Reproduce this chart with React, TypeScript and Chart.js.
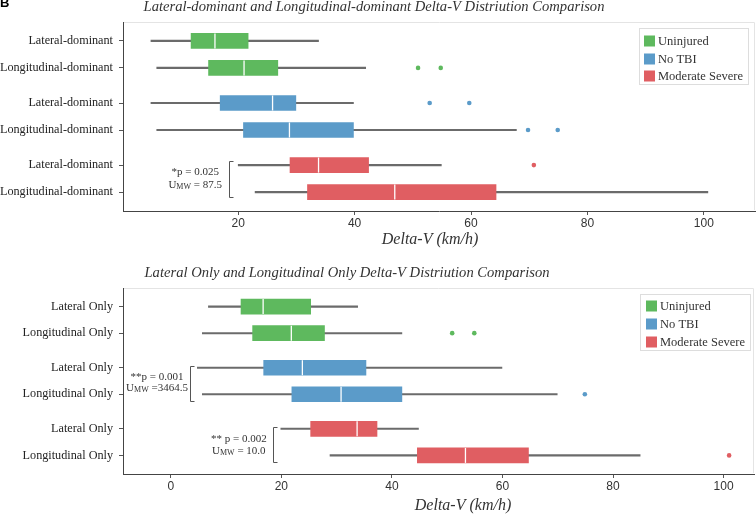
import React, { useEffect, useRef } from 'react';
import { Chart, registerables } from 'chart.js';

Chart.register(...registerables);

// ---------- shared data ----------
const ROW_POS = [0, 1, 2.3, 3.3, 4.6, 5.6];
const GROUP_OF_ROW = [0, 0, 1, 1, 2, 2];
const GROUP_NAMES = ['Uninjured', 'No TBI', 'Moderate Severe'];
const GROUP_COLORS = ['#5eb95e', '#5b9bc9', '#e05e62'];

// ---------- top chart data ----------
const TOP_TITLE = 'Lateral-dominant and Longitudinal-dominant Delta-V Distriution Comparison';
const TOP_LABELS = [
  'Lateral-dominant', 'Longitudinal-dominant',
  'Lateral-dominant', 'Longitudinal-dominant',
  'Lateral-dominant', 'Longitudinal-dominant',
];
const TOP_MIN = [5.0, 6.0, 5.0, 6.0, 20.0, 22.9];
const TOP_Q1 = [11.9, 14.9, 16.9, 20.9, 28.9, 31.9];
const TOP_MEDIAN = [16.0, 21.0, 25.9, 28.8, 33.8, 46.9];
const TOP_Q3 = [21.7, 26.8, 29.9, 39.8, 42.4, 64.3];
const TOP_MAX = [33.8, 41.9, 39.8, 67.8, 54.9, 100.7];
const TOP_OUTLIERS: number[][] = [[], [50.9, 54.8], [52.9, 59.7], [69.8, 74.9], [70.8], []];
const TOP_X_TICKS = [20, 40, 60, 80, 100];

// ---------- bottom chart data ----------
const BOT_TITLE = 'Lateral Only and Longitudinal Only Delta-V Distriution Comparison';
const BOT_LABELS = [
  'Lateral Only', 'Longitudinal Only',
  'Lateral Only', 'Longitudinal Only',
  'Lateral Only', 'Longitudinal Only',
];
const BOT_MIN = [6.8, 5.7, 4.8, 5.7, 19.9, 28.8];
const BOT_Q1 = [12.7, 14.8, 16.8, 21.9, 25.3, 44.6];
const BOT_MEDIAN = [16.7, 21.8, 23.8, 30.8, 33.7, 53.3];
const BOT_Q3 = [25.3, 27.8, 35.3, 41.8, 37.3, 64.7];
const BOT_MAX = [33.8, 41.8, 59.9, 69.9, 44.8, 84.9];
const BOT_OUTLIERS: number[][] = [[], [50.9, 54.9], [], [74.9], [], [101.0]];
const BOT_X_TICKS = [0, 20, 40, 60, 80, 100];

// ---------- annotations (text in data coordinates) ----------
type Seg = { t: string; sub?: boolean };
type Annotation = { lines: Seg[][]; textX: number; textY: number[]; bracketX: number; bracketY: [number, number] };

const TOP_ANNOTATIONS: Annotation[] = [
  {
    lines: [[{ t: '*p = 0.025' }], [{ t: 'U' }, { t: 'MW', sub: true }, { t: ' = 87.5' }]],
    textX: 12.6, textY: [4.85, 5.33], bracketX: 18.45, bracketY: [4.43, 5.77],
  },
];
const BOT_ANNOTATIONS: Annotation[] = [
  {
    lines: [[{ t: '**p = 0.001' }], [{ t: 'U' }, { t: 'MW', sub: true }, { t: ' =3464.5' }]],
    textX: -2.5, textY: [2.67, 3.06], bracketX: 3.44, bracketY: [2.22, 3.54],
  },
  {
    lines: [[{ t: '** p = 0.002' }], [{ t: 'U' }, { t: 'MW', sub: true }, { t: ' = 10.0' }]],
    textX: 12.3, textY: [5.0, 5.44], bracketX: 18.41, bracketY: [4.54, 5.86],
  },
];

const SERIF = '"Liberation Serif", "Times New Roman", serif';
const SANS = '"Liberation Sans", Arial, sans-serif';

function buildDatasets(mins: number[], q1: number[], med: number[], q3: number[], maxs: number[], outliers: number[][]) {
  const ds: any[] = [];
  ds.push({
    type: 'bar', label: 'whiskers', indexAxis: 'y', grouped: false, order: 3,
    data: ROW_POS.map((p, i) => ({ y: p, x: [mins[i], maxs[i]] })),
    backgroundColor: '#6b6b6b', borderWidth: 0, barThickness: 1.4,
  });
  GROUP_NAMES.forEach((g, gi) => {
    const rows = ROW_POS.map((_, i) => i).filter((i) => GROUP_OF_ROW[i] === gi);
    ds.push({
      type: 'bar', label: g, indexAxis: 'y', grouped: false, order: 2,
      data: rows.map((i) => ({ y: ROW_POS[i], x: [q1[i], q3[i]] })),
      backgroundColor: GROUP_COLORS[gi], borderWidth: 0, barThickness: 15,
    });
  });
  ds.push({
    type: 'scatter', label: 'medians', order: 1,
    data: ROW_POS.map((p, i) => ({ x: med[i], y: p })),
    pointStyle: 'line', pointRotation: 90, pointRadius: 7.5, pointHoverRadius: 7.5,
    pointBorderColor: '#ffffff', pointBackgroundColor: '#ffffff', pointBorderWidth: 1.3,
  });
  GROUP_NAMES.forEach((g, gi) => {
    const pts: { x: number; y: number }[] = [];
    ROW_POS.forEach((p, i) => {
      if (GROUP_OF_ROW[i] === gi) outliers[i].forEach((v) => pts.push({ x: v, y: p }));
    });
    ds.push({
      type: 'scatter', label: g + ' outliers', order: 0, data: pts,
      pointRadius: 2.3, pointHoverRadius: 2.3, pointBackgroundColor: GROUP_COLORS[gi],
      pointBorderWidth: 0, pointBorderColor: GROUP_COLORS[gi],
    });
  });
  return ds;
}

type Layout = {
  height: number;
  padTop: number;
  padRight: number;
  xAxisHeight: number;
  xMin: number;
  xMax: number;
  title: string;
  titleX: number;
  titleY: number;
  xTitleX: number;
  xTitleY: number;
  legend: { x: number; y: number; w: number; h: number; sqX: number; textX: number; rowY: number[] };
  panelLabel?: string;
};

function overlayPlugin(layout: Layout, annotations: Annotation[]) {
  return {
    id: 'overlay',
    beforeDatasetsDraw(chart: any) {
      const { ctx, chartArea } = chart;
      const { left, top, right, bottom } = chartArea;
      ctx.save();
      ctx.strokeStyle = '#e4e4e4';
      ctx.lineWidth = 1;
      ctx.beginPath();
      ctx.moveTo(left + 1, Math.round(top) + 0.5);
      ctx.lineTo(Math.round(right) - 0.5, Math.round(top) + 0.5);
      ctx.lineTo(Math.round(right) - 0.5, bottom - 1);
      ctx.stroke();
      ctx.restore();
    },
    afterDraw(chart: any) {
      const ctx = chart.ctx as CanvasRenderingContext2D;
      const xs = chart.scales.x;
      const ys = chart.scales.y;
      ctx.save();
      // titles
      ctx.fillStyle = '#333';
      ctx.textAlign = 'center';
      ctx.textBaseline = 'middle';
      ctx.font = `italic 14.6px ${SERIF}`;
      ctx.fillText(layout.title, layout.titleX, layout.titleY);
      ctx.font = `italic 16px ${SERIF}`;
      ctx.fillText('Delta-V (km/h)', layout.xTitleX, layout.xTitleY);
      if (layout.panelLabel) {
        ctx.fillStyle = '#000';
        ctx.textAlign = 'left';
        ctx.font = `bold 13px ${SANS}`;
        ctx.fillText(layout.panelLabel, 0, 3);
      }
      // legend
      const lg = layout.legend;
      ctx.fillStyle = '#fff';
      ctx.fillRect(lg.x, lg.y, lg.w, lg.h);
      ctx.strokeStyle = '#dddddd';
      ctx.lineWidth = 1;
      ctx.strokeRect(lg.x + 0.5, lg.y + 0.5, lg.w, lg.h);
      ctx.font = `12.5px ${SERIF}`;
      ctx.textAlign = 'left';
      ctx.textBaseline = 'middle';
      GROUP_NAMES.forEach((g, gi) => {
        const cy = lg.rowY[gi];
        ctx.fillStyle = GROUP_COLORS[gi];
        ctx.fillRect(lg.sqX, cy - 5.5, 11, 11);
        ctx.fillStyle = '#333';
        ctx.fillText(g, lg.textX, cy + 0.5);
      });
      // annotations
      annotations.forEach((a) => {
        const bx = Math.round(xs.getPixelForValue(a.bracketX)) + 0.5;
        const by1 = Math.round(ys.getPixelForValue(a.bracketY[0])) + 0.5;
        const by2 = Math.round(ys.getPixelForValue(a.bracketY[1])) + 0.5;
        ctx.strokeStyle = '#555';
        ctx.lineWidth = 1;
        ctx.beginPath();
        ctx.moveTo(bx + 4, by1);
        ctx.lineTo(bx, by1);
        ctx.lineTo(bx, by2);
        ctx.lineTo(bx + 4, by2);
        ctx.stroke();
        ctx.fillStyle = '#333';
        a.lines.forEach((line, li) => {
          const cx = xs.getPixelForValue(a.textX);
          const cy = ys.getPixelForValue(a.textY[li]);
          let w = 0;
          line.forEach((s) => {
            ctx.font = s.sub ? `8px ${SERIF}` : `11px ${SERIF}`;
            w += ctx.measureText(s.t).width;
          });
          let x = cx - w / 2;
          ctx.textAlign = 'left';
          ctx.textBaseline = 'middle';
          line.forEach((s) => {
            ctx.font = s.sub ? `8px ${SERIF}` : `11px ${SERIF}`;
            ctx.fillText(s.t, x, s.sub ? cy + 2 : cy);
            x += ctx.measureText(s.t).width;
          });
        });
      });
      ctx.restore();
    },
  };
}

type PanelProps = {
  layout: Layout;
  labels: string[];
  xTicks: number[];
  mins: number[];
  q1: number[];
  med: number[];
  q3: number[];
  maxs: number[];
  outliers: number[][];
  annotations: Annotation[];
};

function BoxPanel(props: PanelProps) {
  const ref = useRef<HTMLCanvasElement | null>(null);
  useEffect(() => {
    if (!ref.current) return;
    const { layout, labels, xTicks } = props;
    const tickGrid = {
      display: true, drawOnChartArea: false, drawTicks: true, tickLength: 4, tickColor: '#555', color: '#555', offset: false,
    };
    const chart = new Chart(ref.current, {
      type: 'bar',
      data: { datasets: buildDatasets(props.mins, props.q1, props.med, props.q3, props.maxs, props.outliers) },
      options: {
        indexAxis: 'y',
        responsive: false,
        animation: false,
        events: [],
        layout: { autoPadding: false, padding: { top: layout.padTop, right: layout.padRight, left: 0, bottom: 0 } },
        plugins: { legend: { display: false }, tooltip: { enabled: false }, title: { display: false } },
        scales: {
          x: {
            type: 'linear',
            offset: false,
            min: layout.xMin,
            max: layout.xMax,
            afterBuildTicks: (s: any) => { s.ticks = xTicks.map((v) => ({ value: v })); },
            afterFit: (s: any) => {
              s.height = layout.xAxisHeight;
              s.paddingLeft = 0; s.paddingRight = 0; s.paddingTop = 0; s.paddingBottom = 0;
            },
            ticks: { font: { family: SANS, size: 12 }, color: '#333', padding: 1, maxRotation: 0, autoSkip: false },
            grid: tickGrid,
            border: { display: true, color: '#444', width: 1 },
          },
          y: {
            type: 'linear',
            offset: false,
            reverse: true,
            min: -0.7,
            max: 6.3,
            afterBuildTicks: (s: any) => { s.ticks = ROW_POS.map((v) => ({ value: v })); },
            afterFit: (s: any) => {
              s.width = 123;
              s.paddingLeft = 0; s.paddingRight = 0; s.paddingTop = 0; s.paddingBottom = 0;
            },
            ticks: {
              callback: (_v: any, i: number) => labels[i],
              font: { family: SERIF, size: 12.2 }, color: '#222', padding: 6, autoSkip: false,
            },
            grid: tickGrid,
            border: { display: true, color: '#444', width: 1 },
          },
        },
      } as any,
      plugins: [overlayPlugin(layout, props.annotations)],
    });
    return () => chart.destroy();
  }, []);
  return <canvas ref={ref} width={756} height={props.layout.height} style={{ display: 'block' }} />;
}

const TOP_LAYOUT: Layout = {
  height: 257, padTop: 22, padRight: 1, xAxisHeight: 46, xMin: 0.2, xMax: 108.8,
  title: TOP_TITLE, titleX: 374, titleY: 7, xTitleX: 430, xTitleY: 240,
  legend: { x: 639, y: 28, w: 109, h: 56, sqX: 644, textX: 658, rowY: [41, 59, 76] },
  panelLabel: 'B',
};
const BOT_LAYOUT: Layout = {
  height: 258, padTop: 31, padRight: 2, xAxisHeight: 41, xMin: -8.65, xMax: 105.5,
  title: BOT_TITLE, titleX: 347, titleY: 16, xTitleX: 463, xTitleY: 249,
  legend: { x: 640, y: 37, w: 110, h: 56, sqX: 646, textX: 660, rowY: [49, 67, 85] },
};

export default function App() {
  return (
    <div style={{ position: 'absolute', left: 0, top: 0, width: 756, height: 515, background: '#fff' }}>
      <BoxPanel
        layout={TOP_LAYOUT} labels={TOP_LABELS} xTicks={TOP_X_TICKS}
        mins={TOP_MIN} q1={TOP_Q1} med={TOP_MEDIAN} q3={TOP_Q3} maxs={TOP_MAX}
        outliers={TOP_OUTLIERS} annotations={TOP_ANNOTATIONS}
      />
      <BoxPanel
        layout={BOT_LAYOUT} labels={BOT_LABELS} xTicks={BOT_X_TICKS}
        mins={BOT_MIN} q1={BOT_Q1} med={BOT_MEDIAN} q3={BOT_Q3} maxs={BOT_MAX}
        outliers={BOT_OUTLIERS} annotations={BOT_ANNOTATIONS}
      />
    </div>
  );
}
